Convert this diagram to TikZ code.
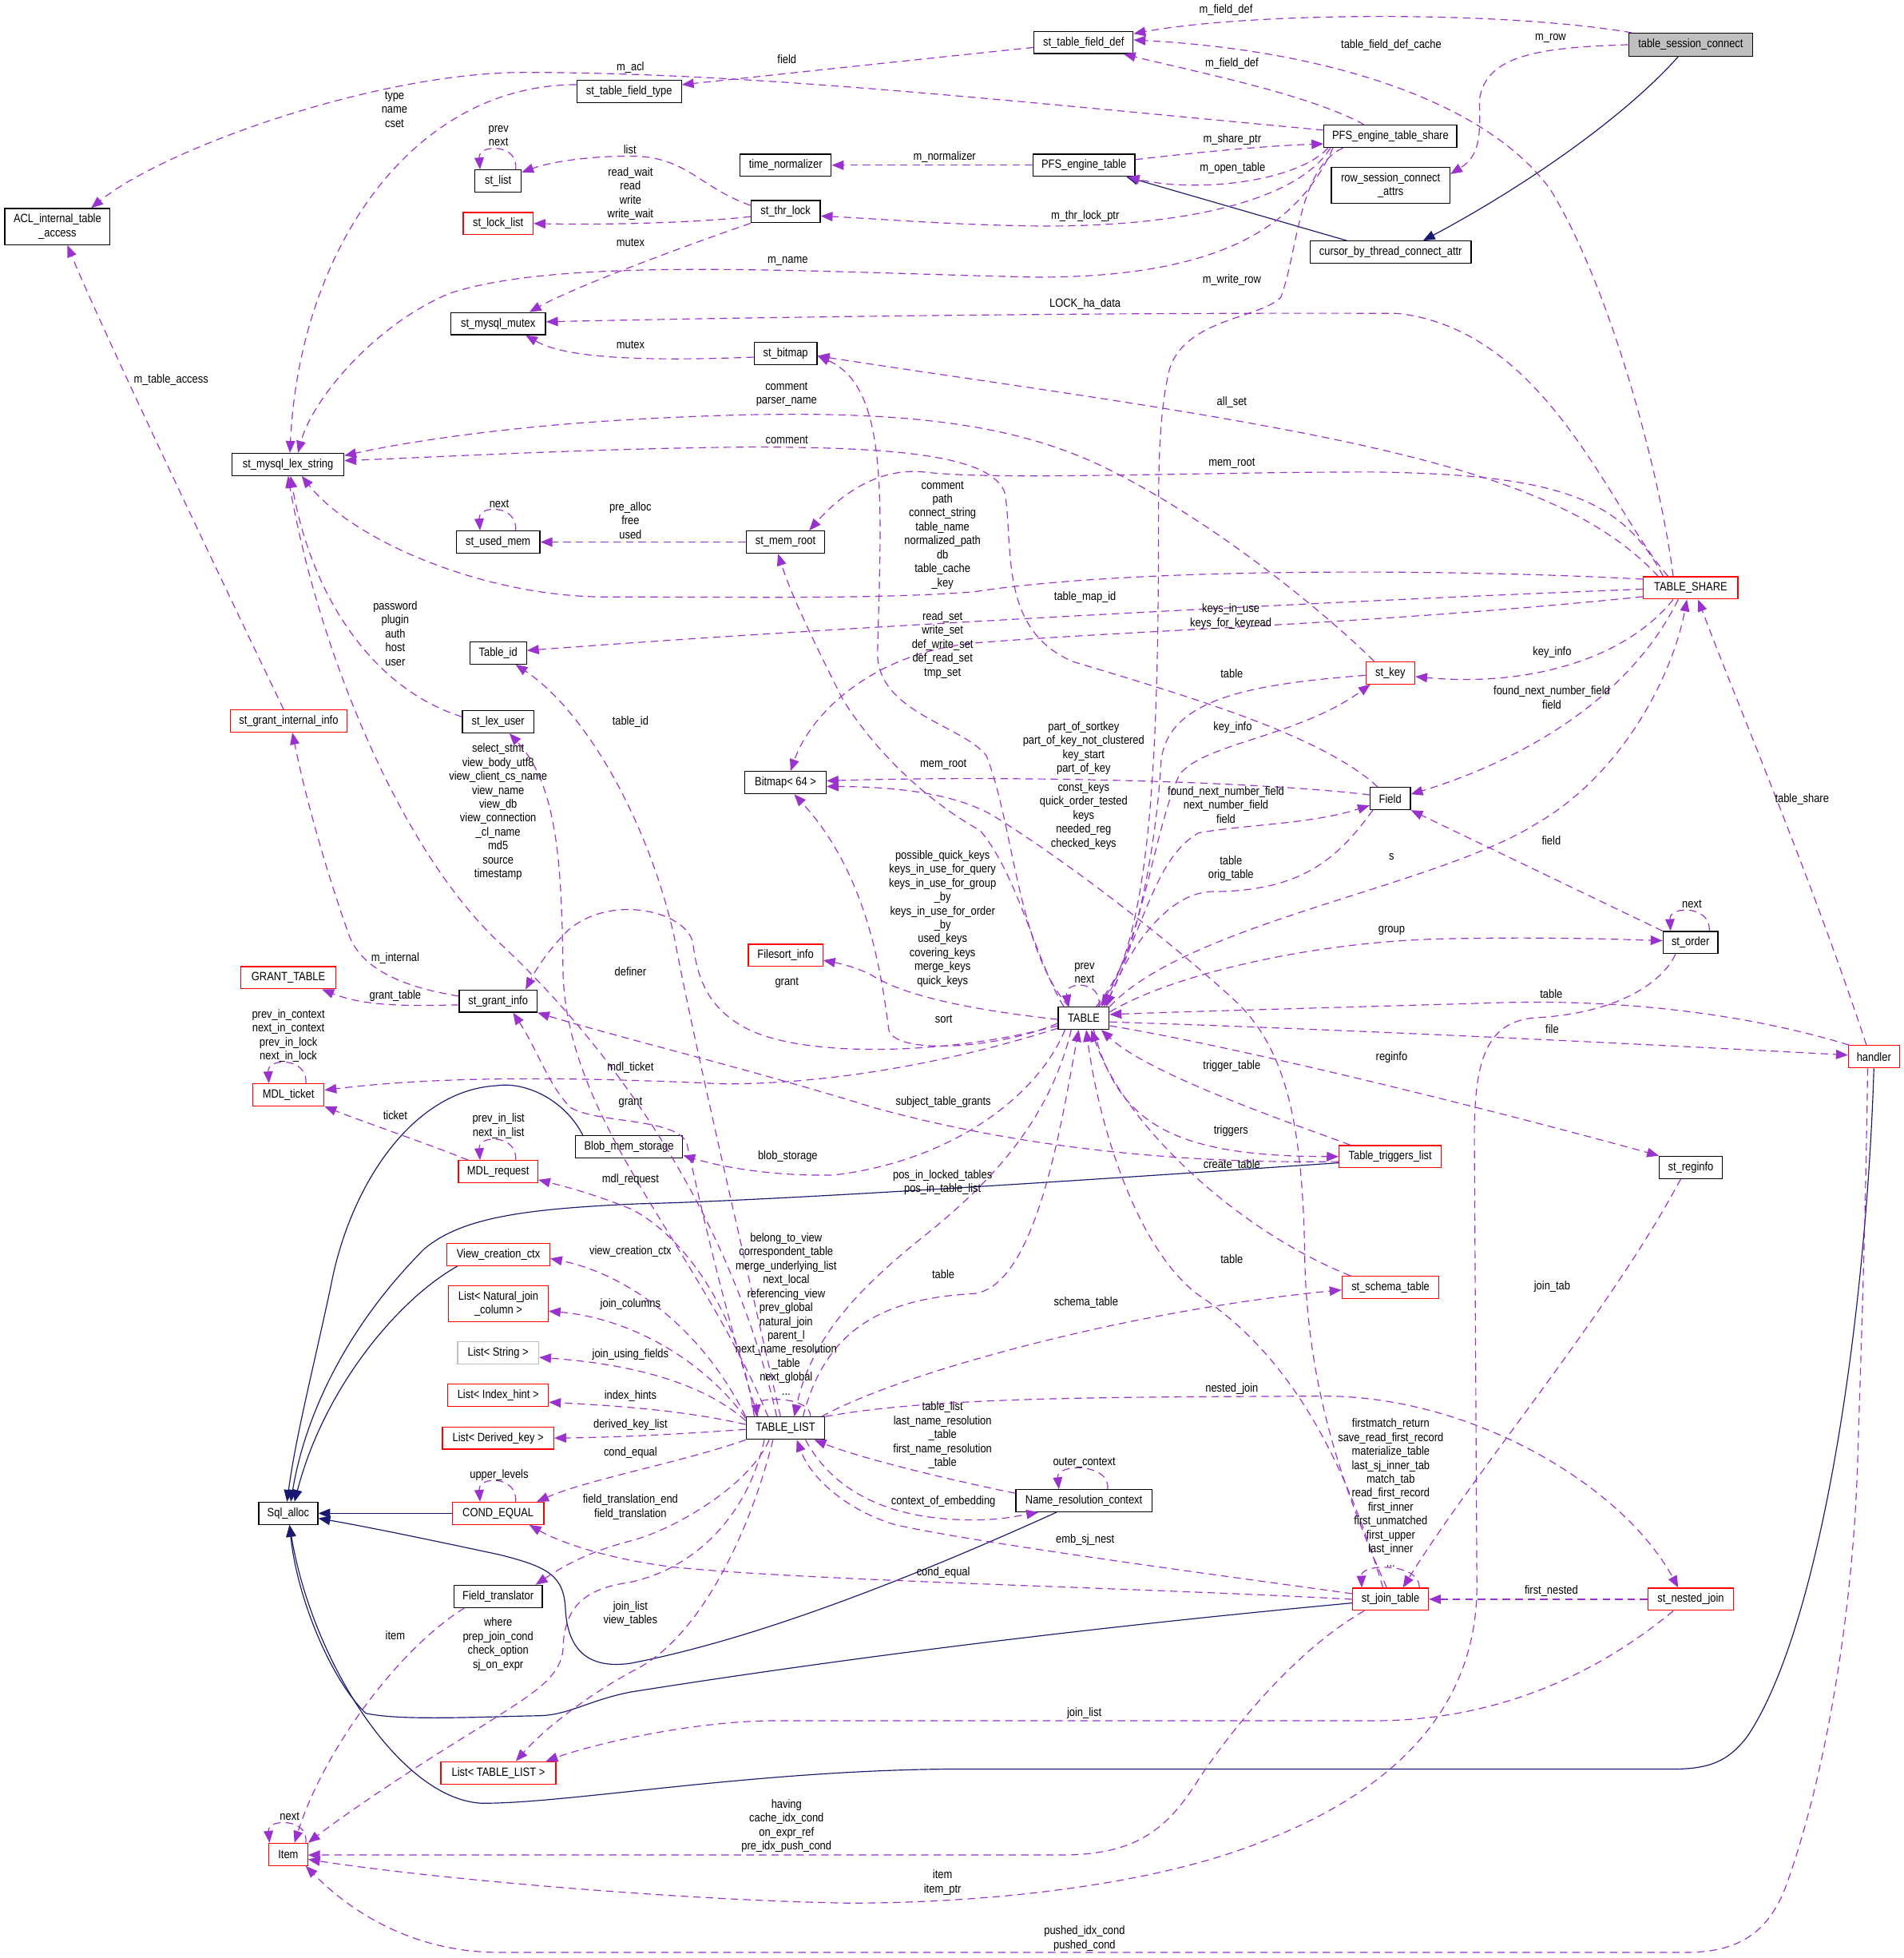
\documentclass[tikz,border=0pt]{standalone}
\usepackage{fontspec}
\setmainfont{Liberation Sans}[FakeStretch=0.86]
\usetikzlibrary{arrows.meta}
\definecolor{purp}{HTML}{9A32CD}
\definecolor{navyb}{HTML}{191970}
\definecolor{boxgray}{HTML}{BFBFBF}
\newcommand{\lblfont}{\fontsize{9.6}{11.15}\selectfont}
\tikzset{
  cbox/.style={draw=black, line width=0.8pt, inner sep=0pt, minimum height=17.8pt, align=center, font=\lblfont},
  rbox/.style={cbox, draw=red},
  gbox/.style={cbox, draw=boxgray},
  dep/.style={draw=purp, line width=0.75pt, dash pattern=on 6pt off 4pt, -{Triangle[length=9.5pt,width=7.5pt]}},
  inh/.style={draw=navyb, line width=0.75pt, -{Triangle[length=9.5pt,width=7.5pt]}},
  lab/.style={font=\lblfont, align=center, inner sep=0pt},
}
\begin{document}
\begin{tikzpicture}[x=1pt,y=-1pt]
\useasboundingbox (0,0) rectangle (1525,1568);
\fill[white] (0,0) rectangle (1525,1568);
% ---------------- nodes
\node[cbox, fill=boxgray, minimum width=99.3pt, minimum height=18.4pt] (tsc) at (1354.25,35.8) {table\_session\_connect};
\node[cbox, minimum width=79.3pt] (stfd) at (868,34) {st\_table\_field\_def};
\node[cbox, minimum width=83.8pt] (stft) at (503.9,73.4) {st\_table\_field\_type};
\node[cbox, minimum width=84.2pt, minimum height=29pt] (acl) at (46,181.5) {ACL\_internal\_table\\\_access};
\node[cbox, minimum width=106.4pt] (pfsts) at (1113.7,109.2) {PFS\_engine\_table\_share};
\node[cbox, minimum width=95pt, minimum height=29.2pt] (rsca) at (1113.9,148.4) {row\_session\_connect\\\_attrs};
\node[cbox, minimum width=129pt] (cbtca) at (1113.9,202) {cursor\_by\_thread\_connect\_attr};
\node[cbox, minimum width=73.1pt] (tn) at (629.3,132.3) {time\_normalizer};
\node[cbox, minimum width=81.6pt] (pfset) at (868.2,132.3) {PFS\_engine\_table};
\node[cbox, minimum width=37pt] (stlist) at (399,145) {st\_list};
\node[rbox, minimum width=56pt] (stll) at (399,179) {st\_lock\_list};
\node[cbox, minimum width=55.4pt] (sttl) at (629.3,169.5) {st\_thr\_lock};
\node[cbox, minimum width=76pt] (smm) at (399,259.2) {st\_mysql\_mutex};
\node[cbox, minimum width=50.3pt] (sbm) at (629.3,283) {st\_bitmap};
\node[cbox, minimum width=89.5pt] (sls) at (230.7,371.9) {st\_mysql\_lex\_string};
\node[cbox, minimum width=67pt] (sum) at (399,434.1) {st\_used\_mem};
\node[cbox, minimum width=63pt] (smr) at (629.2,434.1) {st\_mem\_root};
\node[cbox, minimum width=45.4pt] (tid) at (399,522.9) {Table\_id};
\node[rbox, minimum width=75.7pt] (tshare) at (1354.25,470.8) {TABLE\_SHARE};
\node[rbox, minimum width=39.2pt] (skey) at (1113.7,538.8) {st\_key};
\node[rbox, minimum width=93.6pt] (sgii) at (231.2,577.4) {st\_grant\_internal\_info};
\node[cbox, minimum width=57.1pt] (slu) at (399,578) {st\_lex\_user};
\node[cbox, minimum width=65pt] (bm64) at (629.2,626.8) {Bitmap< 64 >};
\node[cbox, minimum width=32.3pt] (field) at (1113.6,639.5) {Field};
\node[rbox, minimum width=59.7pt] (fsi) at (629.2,765) {Filesort\_info};
\node[cbox, minimum width=44pt] (sorder) at (1354.1,754.8) {st\_order};
\node[rbox, minimum width=76pt] (gtable) at (231,783) {GRANT\_TABLE};
\node[cbox, minimum width=62.4pt] (sgi) at (399,801.7) {st\_grant\_info};
\node[cbox, minimum width=40.8pt] (table) at (868.1,815.4) {TABLE};
\node[rbox, minimum width=40.8pt] (handler) at (1501,846.2) {handler};
\node[rbox, minimum width=57.1pt] (mdlt) at (231,876.8) {MDL\_ticket};
\node[cbox, minimum width=86pt] (blob) at (503.8,918.3) {Blob\_mem\_storage};
\node[rbox, minimum width=81.9pt] (ttl) at (1113.6,926.2) {Table\_triggers\_list};
\node[cbox, minimum width=50.3pt] (sreg) at (1354.3,934.8) {st\_reginfo};
\node[rbox, minimum width=63.6pt] (mdlr) at (399,938.3) {MDL\_request};
\node[rbox, minimum width=82.3pt] (vcc) at (399.2,1004.8) {View\_creation\_ctx};
\node[rbox, minimum width=79.7pt, minimum height=28.8pt] (lnj) at (399.2,1044) {List< Natural\_join\\\_column >};
\node[gbox, minimum width=65pt] (lstr) at (399,1083.3) {List< String >};
\node[rbox, minimum width=77.7pt] (sst) at (1113.8,1031) {st\_schema\_table};
\node[rbox, minimum width=80.6pt] (lih) at (399,1117.4) {List< Index\_hint >};
\node[cbox, minimum width=63pt] (tlist) at (629.2,1143.7) {TABLE\_LIST};
\node[rbox, minimum width=89.1pt] (ldk) at (399,1151.6) {List< Derived\_key >};
\node[cbox, minimum width=109pt] (nrc) at (868.2,1201.8) {Name\_resolution\_context};
\node[cbox, minimum width=47.4pt] (sqla) at (230.9,1211.9) {Sql\_alloc};
\node[rbox, minimum width=73.4pt] (ceq) at (399,1211.9) {COND\_EQUAL};
\node[cbox, minimum width=70.8pt] (ftr) at (399,1278.4) {Field\_translator};
\node[rbox, minimum width=60.7pt] (sjt) at (1113.8,1280.7) {st\_join\_table};
\node[rbox, minimum width=68.5pt] (snj) at (1354.3,1280.7) {st\_nested\_join};
\node[rbox, minimum width=92.1pt] (ltl) at (399.2,1419.7) {List< TABLE\_LIST >};
\node[rbox, minimum width=31pt] (item) at (230.9,1485) {Item};
% ---------------- inheritance (solid)
\draw[inh] ([xshift=-10pt]tsc.south) .. controls (1300,95) and (1220,150) .. ([xshift=26pt]cbtca.north);
\draw[inh] ([xshift=-35pt]cbtca.north) -- ([xshift=34pt]pfset.south);
\draw[inh] ([xshift=-37pt]blob.north) .. controls (452,880) and (420,866) .. (398,869.4) .. controls (330,873) and (280,950) .. (265,1030) .. controls (250,1100) and (237,1150) .. ([xshift=-1pt]sqla.north);
\draw[inh] ([yshift=-5pt]ttl.west) .. controls (800,950) and (600,962) .. (511.7,964) .. controls (420,968) and (370,975) .. (340,1000) .. controls (280,1060) and (245,1130) .. ([xshift=2pt]sqla.north);
\draw[inh] ([xshift=-33pt]vcc.south) .. controls (320,1040) and (260,1110) .. ([xshift=5pt]sqla.north);
\draw[inh] (ceq.west) -- (sqla.east);
\draw[inh] ([xshift=-22pt]nrc.south) .. controls (760,1250) and (620,1310) .. (505,1332) .. controls (470,1337) and (455,1320) .. (453,1290) .. controls (452,1262) and (440,1255) .. (400,1245) .. controls (330,1230) and (290,1222) .. ([yshift=-4pt]sqla.east);
\draw[inh] ([yshift=-3pt]sjt.west) .. controls (800,1310) and (600,1340) .. (505,1355) .. controls (470,1362) and (455,1374) .. (430,1374) .. controls (380,1375) and (320,1378) .. (293,1372) .. controls (265,1345) and (238,1280) .. ([xshift=1pt]sqla.south);
\draw[inh] (handler.south) .. controls (1495,1050) and (1460,1300) .. (1400,1390) .. controls (1385,1410) and (1370,1416.7) .. (1340,1416.7) -- (760,1416.7) .. controls (600,1418) and (450,1445) .. (385,1444) .. controls (320,1440) and (250,1330) .. ([xshift=1pt]sqla.south);
% ---------------- usage (dashed)
\draw[dep] ([xshift=3pt]tsc.north west) .. controls (1200,8) and (1000,10) .. ([yshift=7pt]stfd.east);
\draw[dep] (tsc.west) .. controls (1230,38) and (1190,45) .. (1185,80) .. controls (1186,110) and (1185,125) .. ([yshift=9pt]rsca.east);
\draw[dep] ([xshift=-14pt]tshare.north) .. controls (1330,380) and (1290,230) .. (1242,152) .. controls (1190,80) and (1060,40) .. ([yshift=2pt]stfd.east);
\draw[dep] ([yshift=5pt]pfsts.west) .. controls (800,80) and (600,58) .. (420,58) .. controls (300,58) and (130,120) .. ([xshift=27pt]acl.north);
\draw[dep] ([yshift=-4pt]stfd.west) .. controls (750,46) and (620,60) .. ([yshift=5.6pt]stft.east);
\draw[dep] ([xshift=-21pt]pfsts.north) .. controls (1050,76) and (960,58) .. ([xshift=32pt]stfd.south);
\draw[dep] ([yshift=5.6pt]stft.west) .. controls (330,68) and (240,200) .. ([xshift=1.5pt]sls.north);
\draw[dep] ([xshift=14pt]stlist.north) .. controls (416,115) and (383,115) .. ([xshift=-14.5pt]stlist.north);
\draw[dep] ([yshift=5pt]sttl.west) .. controls (560,150) and (550,125) .. (505,125) .. controls (470,125) and (440,130) .. ([yshift=7pt]stlist.east);
\draw[dep] (pfset.west) -- (tn.east);
\draw[dep] ([yshift=4.5pt]pfset.east) .. controls (960,122) and (1010,117) .. ([yshift=-6pt]pfsts.west);
\draw[dep] ([xshift=-50pt]pfsts.south) .. controls (1040,145) and (960,155) .. ([xshift=35pt]pfset.south);
\draw[dep] ([yshift=-4pt]sttl.west) .. controls (550,179) and (480,180) .. (stll.east);
\draw[dep] ([xshift=-48pt]pfsts.south) .. controls (1040,160) and (950,182) .. (830,181) .. controls (760,180) and (700,175) .. ([yshift=-3.5pt]sttl.east);
\draw[dep] (sttl.south west) .. controls (540,200) and (460,230) .. ([xshift=25pt]smm.north);
\draw[dep] ([xshift=-46pt]pfsts.south) .. controls (1040,180) and (980,222) .. (830,222) .. controls (650,218) and (450,205) .. (360,235) .. controls (300,260) and (250,320) .. ([xshift=8pt]sls.north);
\draw[dep] ([xshift=-38pt]pfsts.south) .. controls (1040,135) and (1040,200) .. (1026,238) .. controls (1010,255) and (950,255) .. (937,295) .. controls (928,330) and (928,380) .. (928,420) .. controls (928,620) and (920,740) .. ([xshift=14pt]table.north);
\draw[dep] ([xshift=-18pt]tshare.north) .. controls (1290,410) and (1240,265) .. (1120,251) .. controls (900,250) and (600,254) .. ([yshift=1.5pt]smm.east);
\draw[dep] ([yshift=-3pt]sbm.west) .. controls (500,290) and (450,285) .. ([xshift=22pt]smm.south);
\draw[dep] ([xshift=-4pt]sgii.north) .. controls (180,470) and (80,260) .. ([xshift=8pt]acl.south);
\draw[dep] ([xshift=-13pt]skey.north) .. controls (1050,480) and (960,410) .. (880,372) .. controls (800,335) and (700,325) .. (505,336) .. controls (400,342) and (320,355) .. ([yshift=7pt]sls.east);
\draw[dep] ([xshift=-10pt]field.north) .. controls (1060,590) and (960,560) .. (860,530) .. controls (800,505) and (812,440) .. (805,395) .. controls (795,365) and (720,358) .. (600,358) .. controls (480,359) and (350,366) .. ([yshift=3pt]sls.east);
\draw[dep] ([xshift=-22pt]tshare.north) .. controls (1300,400) and (1250,380) .. (1100,378) .. controls (950,378) and (800,385) .. (740,378) .. controls (700,374) and (670,400) .. ([xshift=19pt]smr.north);
\draw[dep] ([xshift=-26pt]tshare.north) .. controls (1280,410) and (1200,375) .. (1013,341) .. controls (900,320) and (750,300) .. ([yshift=-2pt]sbm.east);
\draw[dep] ([xshift=-12pt]table.north) .. controls (815,760) and (812,660) .. (790,605) .. controls (770,580) and (700,570) .. (703,520) .. controls (706,400) and (712,310) .. ([yshift=-2pt]sbm.east);
\draw[dep] ([yshift=7pt]tshare.west) .. controls (1150,455) and (900,455) .. (780,474) .. controls (700,480) and (600,478) .. (480,478) .. controls (380,476) and (280,430) .. ([xshift=11pt]sls.south);
\draw[dep] ([xshift=14pt]sum.north) .. controls (415,404) and (383,404) .. ([xshift=-14.5pt]sum.north);
\draw[dep] (smr.west) -- (sum.east);
\draw[dep] ([yshift=-1pt]tshare.west) .. controls (1100,480) and (700,500) .. ([yshift=2pt]tid.east);
\draw[dep] ([yshift=-7pt]tshare.west) .. controls (1100,500) and (900,505) .. (780,515) .. controls (700,523) and (650,570) .. ([xshift=4pt]bm64.north);
\draw[dep] ([yshift=4pt]slu.west) .. controls (300,552) and (250,480) .. ([xshift=2pt]sls.south);
\draw[dep] ([yshift=-2pt]skey.west) .. controls (1000,548) and (935,560) .. (930,610) .. controls (926,680) and (910,760) .. ([xshift=16pt]table.north);
\draw[dep] ([xshift=-14pt]tshare.south) .. controls (1300,530) and (1220,550) .. ([yshift=-3pt]skey.east);
\draw[dep] ([xshift=12pt]table.north) .. controls (915,760) and (925,660) .. (945,620) .. controls (965,595) and (1040,590) .. ([xshift=-16pt]skey.south);
\draw[dep] ([xshift=-10pt]tshare.south) .. controls (1300,570) and (1200,615) .. ([yshift=3.5pt]field.east);
\draw[dep] ([xshift=10pt]table.north) .. controls (915,760) and (920,690) .. (960,667) .. controls (1000,660) and (1050,660) .. ([yshift=-5.5pt]field.west);
\draw[dep] ([xshift=-14pt]field.south) .. controls (1070,690) and (1040,714) .. (970,714) .. controls (930,716) and (900,770) .. ([xshift=18pt]table.north);
\draw[dep] (table.north east) .. controls (950,740) and (1150,710) .. (1230,660) .. controls (1300,620) and (1340,540) .. ([xshift=-3pt]tshare.south);
\draw[dep] (sorder.north west) -- (field.south east);
\draw[dep] ([xshift=-6pt]handler.north) .. controls (1450,700) and (1390,560) .. ([xshift=6pt]tshare.south);
\draw[dep] ([xshift=15pt]sorder.north) .. controls (1371,725) and (1337,725) .. ([xshift=-16pt]sorder.north);
\draw[dep] ([yshift=5pt]table.east) .. controls (940,780) and (1050,755) .. (1150,752) .. controls (1230,750) and (1290,752) .. ([yshift=1.5pt]sorder.west);
\draw[dep] ([xshift=1pt]handler.north west) .. controls (1400,812) and (1300,800) .. (1200,803) .. controls (1100,806) and (950,810) .. ([yshift=3pt]table.east);
\draw[dep] ([yshift=-3pt]table.east) .. controls (1100,825) and (1350,838) .. ([yshift=1.3pt]handler.west);
\draw[dep] ([yshift=-6pt]table.east) .. controls (1000,840) and (1200,890) .. (sreg.north west);
\draw[dep] ([xshift=12pt]table.north) .. controls (884,785) and (852,785) .. ([xshift=-12pt]table.north);
\draw[dep] ([yshift=-1pt]table.west) .. controls (790,810) and (730,800) .. (700,782) .. controls (690,776) and (675,772) .. ([yshift=-4pt]fsi.east);
\draw[dep] ([yshift=-4pt]table.west) .. controls (800,840) and (718,845) .. (712,825) .. controls (706,780) and (695,700) .. ([xshift=7pt]bm64.south);
\draw[dep] ([xshift=-16pt]table.north) .. controls (830,770) and (815,700) .. (785,665) .. controls (740,640) and (700,600) .. (675,560) .. controls (655,520) and (635,480) .. ([xshift=-6pt]smr.south);
\draw[dep] ([yshift=-6pt]table.west) .. controls (760,845) and (640,848) .. (595,822) .. controls (565,805) and (558,780) .. (555,755) .. controls (550,730) and (490,715) .. (455,745) .. controls (440,760) and (430,775) .. ([xshift=22pt]sgi.north);
\draw[dep] ([yshift=4pt]sgi.west) .. controls (320,790) and (290,775) .. (280,750) .. controls (262,700) and (245,640) .. ([xshift=3pt]sgii.south);
\draw[dep] ([yshift=-3pt]sgi.west) .. controls (320,806) and (290,805) .. ([xshift=27pt]gtable.south);
\draw[dep] ([yshift=-8pt]table.west) .. controls (780,845) and (680,868) .. (580,868) .. controls (450,862) and (350,862) .. ([yshift=3.8pt]mdlt.east);
\draw[dep] ([xshift=-22pt]tlist.north) .. controls (580,1050) and (560,960) .. (550,915) .. controls (540,895) and (480,900) .. (457,887) .. controls (440,870) and (430,840) .. ([xshift=12pt]sgi.south);
\draw[dep] ([yshift=-4pt]ttl.west) .. controls (950,932) and (820,920) .. (700,887) .. controls (600,856) and (500,832) .. (sgi.south east);
\draw[dep] ([xshift=-15pt]table.south) .. controls (830,880) and (760,930) .. (668,941) .. controls (620,942) and (580,935) .. ([yshift=-7pt]blob.east);
\draw[dep] ([xshift=-24pt]mdlr.north) .. controls (340,915) and (290,898) .. (mdlt.south east);
\draw[dep] ([xshift=14pt]mdlr.north) .. controls (415,908.5) and (383,908.5) .. ([xshift=-14.5pt]mdlr.north);
\draw[dep] ([xshift=14pt]mdlt.north) .. controls (247,846.7) and (214,846.7) .. ([xshift=-15.6pt]mdlt.north);
\draw[dep] ([xshift=-25pt]tlist.north) .. controls (590,1040) and (540,985) .. (505,968) .. controls (480,958) and (460,952) .. ([yshift=-6.5pt]mdlr.east);
\draw[dep] ([xshift=-32pt]ttl.north) .. controls (1030,898) and (920,860) .. ([xshift=14pt]table.south);
\draw[dep] ([xshift=8pt]table.south) .. controls (895,900) and (940,926) .. (ttl.west);
\draw[dep] ([xshift=-32pt]sst.north) .. controls (990,985) and (900,900) .. ([xshift=6pt]table.south);
\draw[dep] ([xshift=-6pt]sjt.north) .. controls (1080,1180) and (1040,1090) .. (960,1037) .. controls (910,1000) and (880,900) .. ([xshift=2pt]table.south);
\draw[dep] ([xshift=14pt]tlist.north) .. controls (660,1070) and (700,1040) .. (780,1036) .. controls (830,1030) and (850,900) .. ([xshift=-4pt]table.south);
\draw[dep] ([xshift=-10pt]table.south) .. controls (840,900) and (790,950) .. (740,990) .. controls (690,1030) and (650,1070) .. ([xshift=7pt]tlist.north);
\draw[dep] ([xshift=-3pt]tlist.north east) .. controls (720,1100) and (900,1050) .. ([yshift=-2pt]sst.west);
\draw[dep] (tlist.north east) .. controls (750,1118) and (900,1119) .. (1060,1118) .. controls (1180,1118) and (1300,1190) .. ([xshift=-10pt]snj.north);
\draw[dep] (snj.west) -- (sjt.east);
\draw[dep] ([xshift=-14pt]snj.south) .. controls (1280,1340) and (1200,1378) .. (1100,1378) -- (620,1378) .. controls (560,1378) and (480,1395) .. ([xshift=38pt]ltl.north);
\draw[dep] ([xshift=-8pt]sreg.south) .. controls (1290,1050) and (1180,1180) .. ([xshift=10pt]sjt.north);
\draw[dep] ([xshift=23pt]sjt.north) .. controls (1138,1251.5) and (1090,1251.5) .. ([xshift=-23pt]sjt.north);
\draw[dep] ([xshift=-3pt]sjt.north) .. controls (1070,1180) and (1046,1100) .. (1045,1000) .. controls (1043,900) and (1030,840) .. (990,802) .. controls (950,765) and (870,700) .. (800,656) .. controls (770,636) and (720,630) .. ([yshift=-3pt]bm64.east);
\draw[dep] ([yshift=3pt]field.west) .. controls (1000,625) and (800,621) .. ([yshift=1.5pt]bm64.east);
\draw[dep] ([xshift=20pt]tlist.north) .. controls (650,1118) and (605,1118) .. ([xshift=-23pt]tlist.north);
\draw[dep] (tlist.north west) .. controls (560,1060) and (500,1020) .. ([yshift=-3pt]vcc.east);
\draw[dep] ([yshift=8pt]tlist.west) .. controls (560,1085) and (500,1055) .. ([yshift=-6pt]lnj.east);
\draw[dep] ([yshift=6pt]tlist.west) .. controls (560,1105) and (500,1092) .. ([yshift=-3.7pt]lstr.east);
\draw[dep] ([yshift=3pt]tlist.west) .. controls (550,1130) and (500,1126) .. ([yshift=-5.5pt]lih.east);
\draw[dep] ([yshift=-1pt]tlist.west) .. controls (550,1148) and (500,1151) .. (ldk.east);
\draw[dep] (tlist.south west) .. controls (550,1170) and (470,1185) .. ([xshift=31pt]ceq.north);
\draw[dep] ([xshift=-13pt]tlist.south) .. controls (600,1190) and (540,1225) .. (505,1234) .. controls (470,1243) and (450,1255) .. ([xshift=30pt]ftr.north);
\draw[dep] ([xshift=-10pt]tlist.south) .. controls (600,1230) and (560,1310) .. (511,1336) .. controls (480,1352) and (440,1380) .. ([xshift=14pt]ltl.north);
\draw[dep] ([xshift=-17pt]tlist.south) .. controls (600,1210) and (560,1255) .. (505,1267) .. controls (470,1272) and (452,1285) .. (451,1320) .. controls (450,1345) and (420,1360) .. (390,1380) .. controls (340,1410) and (280,1450) .. (item.north east);
\draw[dep] ([xshift=-27pt]ftr.south) .. controls (320,1320) and (260,1400) .. ([xshift=5pt]item.north);
\draw[dep] ([xshift=-21pt]sjt.south) .. controls (1040,1320) and (990,1380) .. (960,1425) .. controls (935,1465) and (910,1485.5) .. (850,1485.5) -- ([yshift=-0.5pt]item.east);
\draw[dep] ([xshift=-12pt]sorder.south) .. controls (1330,790) and (1290,812) .. (1230,815) .. controls (1190,818) and (1181,850) .. (1181,910) -- (1183,1270) .. controls (1183,1380) and (1100,1440) .. (1013,1474) .. controls (930,1508) and (800,1524) .. (680,1524) .. controls (550,1522) and (350,1505) .. ([yshift=-4pt]item.east);
\draw[dep] ([xshift=-5pt]handler.south) .. controls (1494,1000) and (1490,1100) .. (1488,1170) .. controls (1484,1300) and (1460,1430) .. (1430,1512) .. controls (1415,1550) and (1390,1563.5) .. (1350,1563.5) -- (400,1563.5) .. controls (330,1563.5) and (280,1530) .. ([xshift=14pt]item.south);
\draw[dep] ([xshift=14pt]item.north) .. controls (248,1456) and (214,1456) .. ([xshift=-15pt]item.north);
\draw[dep] ([xshift=14pt]ceq.north) .. controls (415,1181.7) and (383,1181.7) .. ([xshift=-14.5pt]ceq.north);
\draw[dep] ([xshift=19pt]nrc.north) .. controls (890,1171.6) and (846,1171.6) .. ([xshift=-20pt]nrc.north);
\draw[dep] ([yshift=6pt]nrc.west) .. controls (760,1185) and (690,1168) .. ([xshift=23pt]tlist.south);
\draw[dep] ([xshift=16pt]tlist.south) .. controls (665,1190) and (705,1215) .. (770,1217) .. controls (800,1218) and (815,1214) .. ([xshift=-36.5pt]nrc.south);
\draw[dep] ([yshift=4.5pt]sjt.west) .. controls (950,1258) and (780,1235) .. (717,1221) .. controls (680,1210) and (650,1185) .. ([xshift=9pt]tlist.south);
\draw[dep] (sjt.west) .. controls (900,1271) and (650,1266) .. (540,1255) .. controls (490,1249) and (450,1236) .. ([xshift=25pt]ceq.south);
\draw[dep] ([xshift=-7pt]tlist.north) .. controls (580,950) and (470,820) .. (400,755) .. controls (320,680) and (255,520) .. (sls.south);
\draw[dep] ([xshift=-4pt]tlist.north) .. controls (590,980) and (555,830) .. (540,750) .. controls (520,660) and (470,570) .. ([xshift=14pt]tid.south);
\draw[dep] ([xshift=-14pt]tlist.north) .. controls (560,1000) and (455,900) .. (451,780) .. controls (450,700) and (448,630) .. ([xshift=9pt]slu.south);
% ---------------- labels
\node[lab] (l1) at (982,8) {m\_field\_def};
\node[lab] (l2) at (1242,30.9) {m\_row};
\node[lab] (l3) at (1114.4,36.2) {table\_field\_def\_cache};
\node[lab] (l4) at (505,54) {m\_acl};
\node[lab] (l5) at (630.3,47.6) {field};
\node[lab] (l6) at (986.7,50.6) {m\_field\_def};
\node[lab] (l7) at (316,87.6) {type\\name\\cset};
\node[lab] (l8) at (399.3,108.7) {prev\\next};
\node[lab] (l9) at (504.6,119.4) {list};
\node[lab] (l10) at (756.6,125.7) {m\_normalizer};
\node[lab] (l11) at (987,111.6) {m\_share\_ptr};
\node[lab] (l12) at (987.3,134.8) {m\_open\_table};
\node[lab] (l13) at (505,155.3) {read\_wait\\read\\write\\write\_wait};
\node[lab] (l14) at (869.2,173.3) {m\_thr\_lock\_ptr};
\node[lab] (l15) at (505,194.3) {mutex};
\node[lab] (l16) at (631,209) {m\_name};
\node[lab] (l17) at (986.7,224.4) {m\_write\_row};
\node[lab] (l18) at (869.2,243.4) {LOCK\_ha\_data};
\node[lab] (l19) at (505,276.3) {mutex};
\node[lab] (l20) at (137,304.3) {m\_table\_access};
\node[lab] (l21) at (630,315.9) {comment\\parser\_name};
\node[lab] (l22) at (986.7,322) {all\_set};
\node[lab] (l23) at (630.3,352.4) {comment};
\node[lab] (l24) at (986.7,371.4) {mem\_root};
\node[lab] (l25) at (755,428.5) {comment\\path\\connect\_string\\table\_name\\normalized\_path\\db\\table\_cache\\\_key};
\node[lab] (l26) at (399.8,403.4) {next};
\node[lab] (l27) at (505,416.8) {pre\_alloc\\free\\used};
\node[lab] (l28) at (869.2,478) {table\_map\_id};
\node[lab] (l29) at (985.9,493.5) {keys\_in\_use\\keys\_for\_keyread};
\node[lab] (l30) at (316.6,507.3) {password\\plugin\\auth\\host\\user};
\node[lab] (l31) at (755,516.5) {read\_set\\write\_set\\def\_write\_set\\def\_read\_set\\tmp\_set};
\node[lab] (l32) at (986.7,539.5) {table};
\node[lab] (l33) at (1243.3,522.2) {key\_info};
\node[lab] (l34) at (987.4,582.5) {key\_info};
\node[lab] (l35) at (1243,558.5) {found\_next\_number\_field\\field};
\node[lab] (l36) at (982,644.4) {found\_next\_number\_field\\next\_number\_field\\field};
\node[lab] (l37) at (986,695.5) {table\\orig\_table};
\node[lab] (l38) at (1114.7,686) {s};
\node[lab] (l39) at (1242.6,673) {field};
\node[lab] (l40) at (1443.4,640.1) {table\_share};
\node[lab] (l41) at (1355.2,724.1) {next};
\node[lab] (l42) at (1114.7,745.6) {group};
\node[lab] (l43) at (868,599.2) {part\_of\_sortkey\\part\_of\_key\_not\_clustered\\key\_start\\part\_of\_key};
\node[lab] (l44) at (868,653.5) {const\_keys\\quick\_order\_tested\\keys\\needed\_reg\\checked\_keys};
\node[lab] (l45) at (755.6,612) {mem\_root};
\node[lab] (l46) at (755,735.6) {possible\_quick\_keys\\keys\_in\_use\_for\_query\\keys\_in\_use\_for\_group\\\_by\\keys\_in\_use\_for\_order\\\_by\\used\_keys\\covering\_keys\\merge\_keys\\quick\_keys};
\node[lab] (l47) at (399,650.2) {select\_stmt\\view\_body\_utf8\\view\_client\_cs\_name\\view\_name\\view\_db\\view\_connection\\\_cl\_name\\md5\\source\\timestamp};
\node[lab] (l48) at (505,578) {table\_id};
\node[lab] (l49) at (505,778) {definer};
\node[lab] (l50) at (316.6,767.1) {m\_internal};
\node[lab] (l51) at (316.6,797.6) {grant\_table};
\node[lab] (l52) at (630.3,787.2) {grant};
\node[lab] (l53) at (868.7,779.1) {prev\\next};
\node[lab] (l54) at (756,815.8) {sort};
\node[lab] (l55) at (1242.6,796.1) {table};
\node[lab] (l56) at (1243.3,824.2) {file};
\node[lab] (l57) at (1114.7,846.7) {reginfo};
\node[lab] (l58) at (231,829.5) {prev\_in\_context\\next\_in\_context\\prev\_in\_lock\\next\_in\_lock};
\node[lab] (l59) at (505,855) {mdl\_ticket};
\node[lab] (l60) at (505,883) {grant};
\node[lab] (l61) at (755.6,882.3) {subject\_table\_grants};
\node[lab] (l62) at (986.7,853.8) {trigger\_table};
\node[lab] (l63) at (986,905.6) {triggers};
\node[lab] (l64) at (986.7,933.4) {create\_table};
\node[lab] (l65) at (316.6,893) {ticket};
\node[lab] (l66) at (399.3,901.7) {prev\_in\_list\\next\_in\_list};
\node[lab] (l67) at (631,926.4) {blob\_storage};
\node[lab] (l68) at (505,944.5) {mdl\_request};
\node[lab] (l69) at (755,946.9) {pos\_in\_locked\_tables\\pos\_in\_table\_list};
\node[lab] (l70) at (629.7,1052.3) {belong\_to\_view\\correspondent\_table\\merge\_underlying\_list\\next\_local\\referencing\_view\\prev\_global\\natural\_join\\parent\_l\\next\_name\_resolution\\\_table\\next\_global\\...};
\node[lab] (l71) at (505,1002.3) {view\_creation\_ctx};
\node[lab] (l72) at (505,1044.3) {join\_columns};
\node[lab] (l73) at (505,1084.5) {join\_using\_fields};
\node[lab] (l74) at (505,1118) {index\_hints};
\node[lab] (l75) at (505,1141) {derived\_key\_list};
\node[lab] (l76) at (505,1163.7) {cond\_equal};
\node[lab] (l77) at (755.6,1020.7) {table};
\node[lab] (l78) at (986.7,1008) {table};
\node[lab] (l79) at (869.9,1043) {schema\_table};
\node[lab] (l80) at (986.7,1112.3) {nested\_join};
\node[lab] (l81) at (755,1149.5) {table\_list\\last\_name\_resolution\\\_table\\first\_name\_resolution\\\_table};
\node[lab] (l82) at (868.5,1171.5) {outer\_context};
\node[lab] (l83) at (755.6,1202.2) {context\_of\_embedding};
\node[lab] (l84) at (869.2,1233.1) {emb\_sj\_nest};
\node[lab] (l85) at (755.6,1259.1) {cond\_equal};
\node[lab] (l86) at (1243.3,1030.3) {join\_tab};
\node[lab] (l87) at (1114,1195.3) {firstmatch\_return\\save\_read\_first\_record\\materialize\_table\\last\_sj\_inner\_tab\\match\_tab\\read\_first\_record\\first\_inner\\first\_unmatched\\first\_upper\\last\_inner\\...};
\node[lab] (l88) at (1242.6,1274.3) {first\_nested};
\node[lab] (l89) at (399.8,1181.2) {upper\_levels};
\node[lab] (l90) at (505,1206.9) {field\_translation\_end\\field\_translation};
\node[lab] (l91) at (316.6,1309.7) {item};
\node[lab] (l92) at (399,1316.7) {where\\prep\_join\_cond\\check\_option\\sj\_on\_expr};
\node[lab] (l93) at (505,1292.3) {join\_list\\view\_tables};
\node[lab] (l94) at (868.5,1371.7) {join\_list};
\node[lab] (l95) at (630,1462.2) {having\\cache\_idx\_cond\\on\_expr\_ref\\pre\_idx\_push\_cond};
\node[lab] (l96) at (232,1454.7) {next};
\node[lab] (l97) at (755,1507.7) {item\\item\_ptr};
\node[lab] (l98) at (868.7,1552.3) {pushed\_idx\_cond\\pushed\_cond};
\end{tikzpicture}
\end{document}
